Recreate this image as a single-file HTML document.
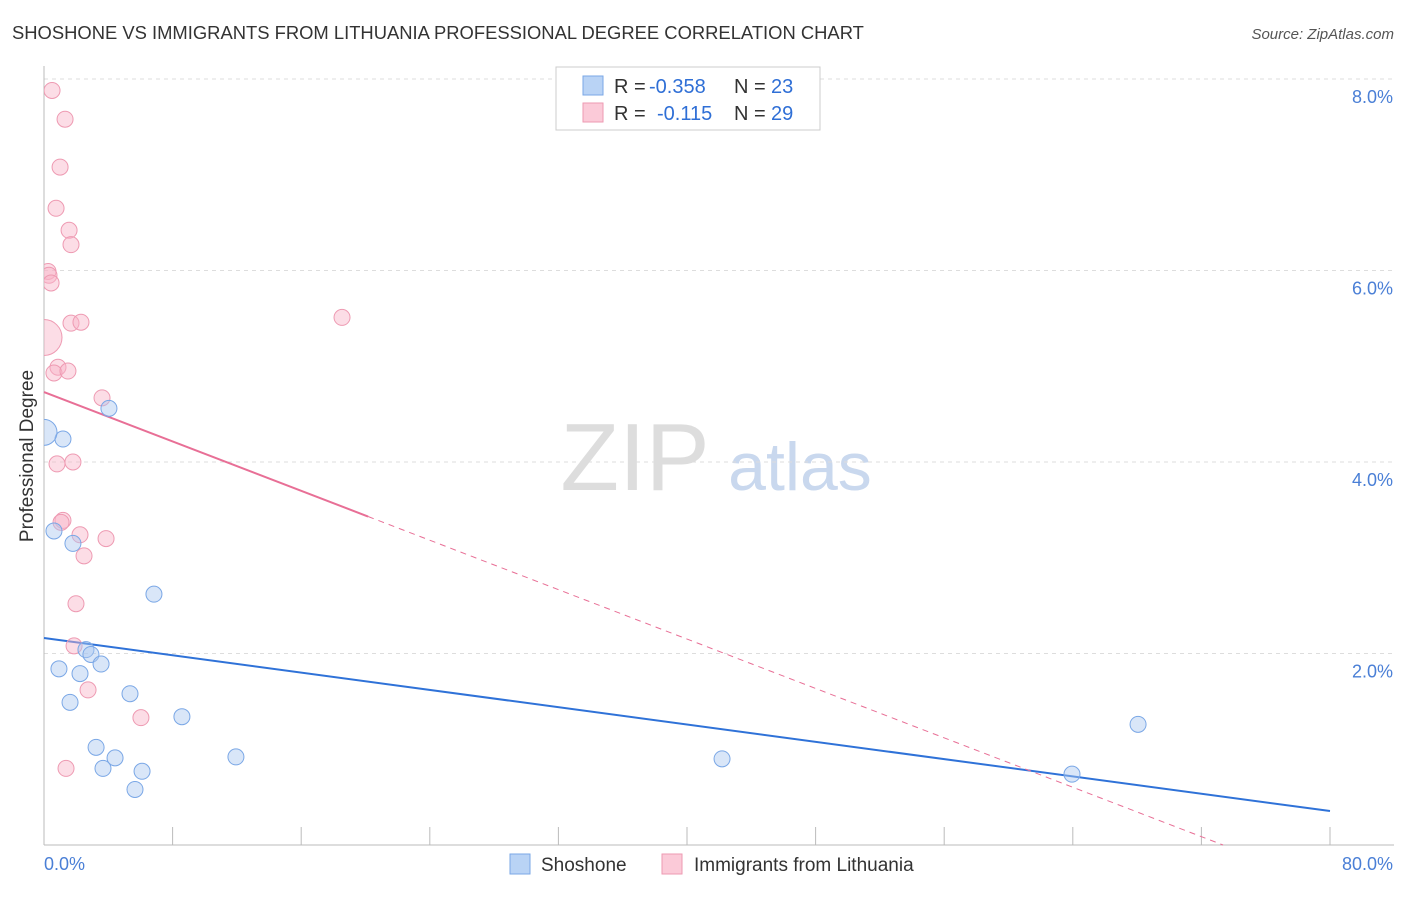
<!DOCTYPE html>
<html><head><meta charset="utf-8"><style>
body{margin:0;background:#fff;font-family:"Liberation Sans",sans-serif}
svg text{font-family:"Liberation Sans",sans-serif}
</style></head><body>
<svg id="chart" width="1406" height="892" xmlns="http://www.w3.org/2000/svg">
<defs><clipPath id="plotclip"><rect x="44" y="60" width="1360" height="790"/></clipPath></defs>
<text x="12" y="39" font-size="18.4" fill="#333">SHOSHONE VS IMMIGRANTS FROM LITHUANIA PROFESSIONAL DEGREE CORRELATION CHART</text>
<text x="1394" y="39" font-size="15" fill="#555" text-anchor="end" font-style="italic">Source: ZipAtlas.com</text>
<g>
<text x="635" y="490" font-size="96" fill="#ddd" font-family="Liberation Serif" text-anchor="middle">ZIP</text>
<text x="800" y="490" font-size="68" fill="#c9d8ee" text-anchor="middle">atlas</text>
</g>
<g id="grid"></g>
<g id="axes"></g>
<g id="lines"></g>
<g id="points" clip-path="url(#plotclip)"></g>
<text x="33" y="456" font-size="19" fill="#333" text-anchor="middle" transform="rotate(-90 33 456)">Professional Degree</text>
<g font-size="20">
<rect x="556" y="67" width="264" height="63" fill="#fff" stroke="#ccc"/>
<rect x="583" y="76" width="20" height="19" fill="#b9d3f5" stroke="#7aa7e6"/>
<rect x="583" y="103" width="20" height="19" fill="#fbcad8" stroke="#ee9ab2"/>
<text x="614" y="93" fill="#333">R =</text><text x="649" y="93" fill="#2f6fd6">-0.358</text>
<text x="734" y="93" fill="#333">N =</text><text x="771" y="93" fill="#2f6fd6">23</text>
<text x="614" y="120" fill="#333">R =</text><text x="657" y="120" fill="#2f6fd6">-0.115</text>
<text x="734" y="120" fill="#333">N =</text><text x="771" y="120" fill="#2f6fd6">29</text>
</g>
<g>
<rect x="510" y="854" width="20" height="20" fill="#b9d3f5" stroke="#7aa7e6"/>
<text x="541" y="871" font-size="19" fill="#333">Shoshone</text>
<rect x="662" y="854" width="20" height="20" fill="#fbcad8" stroke="#ee9ab2"/>
<text x="694" y="871" font-size="19" fill="#333">Immigrants from Lithuania</text>
</g>
</svg>
<script>
const yTicks=[2,4,6,8];
const xTickLabels=["0.0%","80.0%"];
const blueX=[0.62,1.18,0,4.04,1.8,6.84,2.61,2.92,0.93,3.55,2.24,1.62,5.35,8.58,3.24,4.42,3.67,6.1,5.66,11.94,42.18,68.06,63.95];
const blueY=[3.28,4.24,4.31,4.56,3.15,2.62,2.04,1.99,1.84,1.89,1.79,1.49,1.58,1.34,1.02,0.91,0.80,0.77,0.58,0.92,0.90,1.26,0.74];
const blueR=[8,8,13,8,8,8,8,8,8,8,8,8,8,8,8,8,8,8,8,8,8,8,8];
const pinkX=[0.5,1.31,1.0,0.75,1.56,1.68,0.25,0.31,0.44,0,1.68,2.3,18.54,0.87,0.62,1.49,3.61,0.81,1.8,1.18,1.06,2.24,3.86,2.49,1.99,1.87,2.74,6.03,1.37];
const pinkY=[7.88,7.58,7.08,6.65,6.42,6.27,5.99,5.95,5.87,5.3,5.45,5.46,5.51,4.99,4.93,4.95,4.67,3.98,4.0,3.39,3.37,3.24,3.2,3.02,2.52,2.08,1.62,1.33,0.8];
const pinkR=[8,8,8,8,8,8,8,8,8,18,8,8,8,8,8,8,8,8,8,8,8,8,8,8,8,8,8,8,8];
const blueTrend=[2.162,-0.02259];
const pinkTrend=[4.731,-0.0645];
const X=v=>44+v*16.075, Y=v=>845-v*95.75;
const NS="http://www.w3.org/2000/svg";
function mk(t,a,p){const e=document.createElementNS(NS,t);for(const k in a)e.setAttribute(k,a[k]);p.appendChild(e);return e;}
const grid=document.getElementById('grid'),axes=document.getElementById('axes');
yTicks.forEach(t=>{
const l=mk('line',{x1:44,x2:1394,y1:Y(t),y2:Y(t),stroke:'#ddd','stroke-dasharray':'4,4'},grid);


const tx=mk('text',{x:1393,y:Y(t)+24,'font-size':18,fill:'#4a7fd6','text-anchor':'end'},axes);
tx.textContent=t.toFixed(1)+'%';


});
mk('line',{x1:44,x2:44,y1:66,y2:845,stroke:'#bbb'},axes);
mk('line',{x1:44,x2:1394,y1:845,y2:845,stroke:'#bbb'},axes);
for(let i=0;i<=10;i++){const tk=mk('line',{x1:X(i*8),x2:X(i*8),y1:827,y2:845,stroke:'#bbb'},axes);

}
[[0,'start',44],[1,'end',1393]].forEach(([i,a,x])=>{const t=mk('text',{x:x,y:870,'font-size':18,fill:'#4a7fd6','text-anchor':a},axes);t.textContent=xTickLabels[i];

});
const lines=document.getElementById('lines');
const bl=mk('line',{x1:X(0),y1:Y(blueTrend[0]),x2:X(80),y2:Y(blueTrend[0]+blueTrend[1]*80),stroke:'#2f72d8','stroke-width':2},lines);


const pe=20.16, pz=-pinkTrend[0]/pinkTrend[1];
const ps=mk('line',{x1:X(0),y1:Y(pinkTrend[0]),x2:X(pe),y2:Y(pinkTrend[0]+pinkTrend[1]*pe),stroke:'#e86f96','stroke-width':2},lines);


const pd=mk('line',{x1:X(pe),y1:Y(pinkTrend[0]+pinkTrend[1]*pe),x2:X(pz),y2:Y(0),stroke:'#e86f96','stroke-width':1,'stroke-dasharray':'6,5'},lines);


const pts=document.getElementById('points');
pinkX.forEach((v,i)=>{const c=mk('circle',{cx:X(v),cy:Y(pinkY[i]),r:pinkR[i],fill:'rgba(248,180,200,0.45)',stroke:'#ee9ab2','stroke-width':1},pts);

});
blueX.forEach((v,i)=>{const c=mk('circle',{cx:X(v),cy:Y(blueY[i]),r:blueR[i],fill:'rgba(170,200,240,0.45)',stroke:'#7aa7e6','stroke-width':1},pts);

});
</script>
</body></html>
